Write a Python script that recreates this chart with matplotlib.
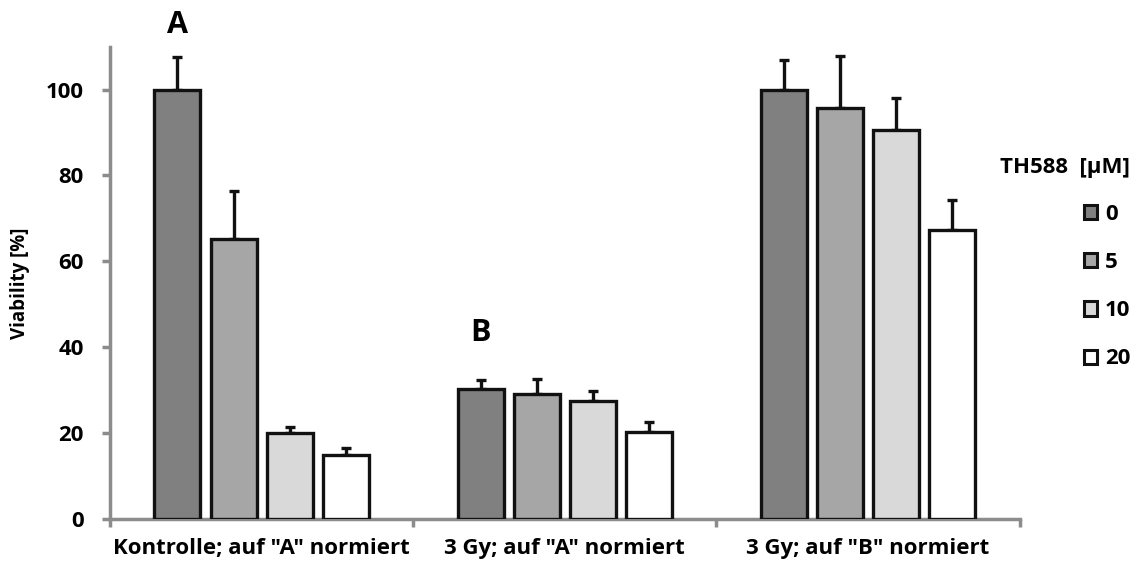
import numpy as np
import matplotlib
matplotlib.use("Agg")
import matplotlib.pyplot as plt
from matplotlib.patches import Patch

plt.rcParams["font.family"] = ["Open Sans", "DejaVu Sans"]
plt.rcParams["font.weight"] = "bold"

groups = ['Kontrolle; auf "A" normiert', '3 Gy; auf "A" normiert', '3 Gy; auf "B" normiert']
doses = ["0", "5", "10", "20"]
colors = ["#808080", "#a6a6a6", "#d9d9d9", "#ffffff"]

# viability (%) per dose, one list per dose across the three groups
v0 = [100.0, 30.2, 100.0]
v5 = [65.3, 29.1, 95.6]
v10 = [20.1, 27.4, 90.5]
v20 = [15.0, 20.3, 67.2]
# upper error (SD)
e0 = [7.5, 2.1, 6.8]
e5 = [11.2, 3.6, 12.2]
e10 = [1.4, 2.4, 7.5]
e20 = [1.6, 2.2, 7.0]

values = [v0, v5, v10, v20]
errors = [e0, e5, e10, e20]

AXIS = "#8c8c8c"
FS = 16
fig = plt.figure(figsize=(11.47, 5.67), dpi=100)
ax = fig.add_axes([0.0959, 0.0847, 0.793, 0.833])

x = np.arange(len(groups)) + 0.5
width, step = 0.152, 0.185
for i, (vals, errs) in enumerate(zip(values, errors)):
    pos = x + (i - 1.5) * step
    ax.bar(pos, vals, width, color=colors[i], edgecolor="#111111", linewidth=2.4, zorder=3)
    ax.errorbar(pos, vals, yerr=[np.zeros(len(errs)), errs], fmt="none", ecolor="#111111",
                elinewidth=2.4, capsize=3.6, capthick=2.4, zorder=2)

ax.set_xlim(0, 3)
ax.set_ylim(0, 110)
ax.set_yticks([0, 20, 40, 60, 80, 100])
ax.set_xticks([0, 1, 2, 3])
ax.set_xticklabels([])
ax.set_xticks(x, minor=True)
ax.set_xticklabels(groups, minor=True, fontsize=FS, fontweight="bold")
ax.tick_params(axis="x", which="minor", length=0, pad=14)
ax.tick_params(axis="x", which="major", length=6, width=2.5, color=AXIS)
ax.tick_params(axis="y", length=6, width=2.5, color=AXIS, labelsize=FS, pad=13)
for lbl in ax.get_yticklabels():
    lbl.set_fontweight("bold")

for s in ("top", "right"):
    ax.spines[s].set_visible(False)
for s in ("left", "bottom"):
    ax.spines[s].set_color(AXIS)
    ax.spines[s].set_linewidth(2.5)

ax.set_ylabel("Viability [%]", fontsize=13.5, fontweight="bold", labelpad=11)

ax.text(x[0] - 1.5 * step, v0[0] + e0[0] + 4.0, "A", ha="center", va="bottom",
        fontsize=22, fontweight="bold", clip_on=False)
ax.text(x[1] - 1.5 * step, v0[1] + e0[1] + 7.5, "B", ha="center", va="bottom",
        fontsize=22, fontweight="bold")

handles = [Patch(facecolor=c, edgecolor="#111111", linewidth=2.2) for c in colors]
leg = fig.legend(handles, doses, title="TH588  [µM]", loc="upper right",
                 bbox_to_anchor=(0.999, 0.751), frameon=False, alignment="right",
                 borderpad=0.2, handlelength=0.6, handleheight=0.6, handletextpad=0.35,
                 labelspacing=1.22, prop={"size": FS, "weight": "bold"})
leg.get_title().set_fontsize(FS)
leg.get_title().set_fontweight("bold")
leg._legend_box.sep = 19

fig.savefig("out.png", dpi=100)
